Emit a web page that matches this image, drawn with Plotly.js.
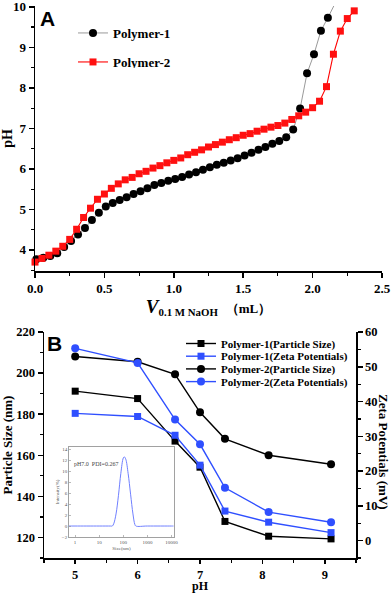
<!DOCTYPE html>
<html><head><meta charset="utf-8">
<script src="https://cdn.plot.ly/plotly-3.0.1.min.js"></script>
<style>html,body{margin:0;padding:0;background:#fff}#chart{width:392px;height:593px}</style>
</head><body><div id="chart"></div>
<script>
// ---------- Panel A: titration curves ----------
const p1Vol = [0.01,0.06,0.11,0.16,0.21,0.26,0.31,0.36,0.41,0.46,0.51,0.56,0.61,0.66,0.71,0.76,0.81,0.86,0.91,0.96,1.01,1.06,1.11,1.16,1.21,1.26,1.31,1.36,1.41,1.46,1.51,1.56,1.61,1.66,1.71,1.76,1.81,1.86,1.91,1.96,2.01,2.06,2.11,2.16];
const p1pH = [3.77,3.81,3.85,3.92,4.07,4.22,4.38,4.54,4.74,4.92,5.07,5.16,5.23,5.30,5.38,5.45,5.52,5.60,5.65,5.71,5.75,5.80,5.86,5.92,5.98,6.04,6.10,6.15,6.21,6.26,6.33,6.40,6.47,6.54,6.62,6.69,6.78,6.97,7.49,8.36,8.83,9.41,9.73,10.07];
const p2Vol = [0.00,0.05,0.10,0.15,0.20,0.25,0.30,0.35,0.40,0.45,0.50,0.55,0.60,0.65,0.70,0.75,0.80,0.85,0.90,0.95,1.00,1.05,1.10,1.15,1.20,1.25,1.30,1.35,1.40,1.45,1.50,1.55,1.60,1.65,1.70,1.75,1.80,1.85,1.90,1.95,2.00,2.05,2.10,2.15,2.20,2.25,2.30];
const p2pH = [3.70,3.79,3.87,3.97,4.09,4.26,4.51,4.80,5.03,5.25,5.38,5.52,5.63,5.73,5.79,5.88,5.94,6.02,6.08,6.15,6.21,6.27,6.35,6.41,6.47,6.54,6.60,6.66,6.72,6.77,6.83,6.87,6.93,6.98,7.03,7.07,7.13,7.22,7.31,7.40,7.51,7.67,8.03,8.83,9.40,9.71,9.90];

// ---------- Panel B: size & zeta vs pH ----------
const pHB = [5.0,6.0,6.6,7.0,7.4,8.1,9.1];
const p1Size = [191.2,187.6,166.9,154.2,127.8,120.6,119.3];
const p1Zeta = [36.6,35.7,30.3,21.7,8.5,5.3,2.3];
const p2Size = [208.1,205.5,199.4,180.9,168.0,160.0,155.6];
const p2Zeta = [55.3,51.1,34.8,27.7,15.2,8.2,5.3];

// ---------- Inset: DLS distribution ----------
const dlsSize = [0.5,1,10,30,35,40,50,63,79,100,110,126,158,200,251,300,330,1000,10000,12000];
const dlsInt  = [0,0,0,0,0,0.4,2.2,5.6,9.6,12.4,12.6,12.2,9.6,5.8,2.2,0.3,0,0,0,0];
const insetXTicks = [1,10,100,1000,10000];
const insetXText = ['1','10','100','1000','10000'];

const W=392,H=593;
const px=v=>v/W, py=v=>1-v/H;
const SERIF='"Liberation Serif","Times New Roman",serif';
const SANS='"Liberation Sans",Arial,sans-serif';
const tf={family:SERIF,size:13,color:'#000',weight:'bold'};
const tfB={family:SERIF,size:12.5,color:'#000',weight:'bold'};
const tfBx={family:SERIF,size:12,color:'#000',weight:'bold'};
const blue='#2f4fff';

const traces=[
 {x:p1Vol,y:p1pH,name:'Polymer-1',type:'scatter',mode:'lines+markers',xaxis:'x',yaxis:'y',legend:'legend',
  line:{color:'#9a9a9a',width:1},marker:{symbol:'circle',size:8,color:'#000'},cliponaxis:false},
 {x:p2Vol,y:p2pH,name:'Polymer-2',type:'scatter',mode:'lines+markers',xaxis:'x',yaxis:'y',legend:'legend',
  line:{color:'#ff0000',width:1.1},marker:{symbol:'square',size:7,color:'#ff1010'},cliponaxis:false},
 {x:pHB,y:p1Size,name:'Polymer-1(Particle Size)',type:'scatter',mode:'lines+markers',xaxis:'x2',yaxis:'y2',legend:'legend2',
  line:{color:'#000',width:1.4},marker:{symbol:'square',size:7,color:'#000'},cliponaxis:false},
 {x:pHB,y:p1Zeta,name:'Polymer-1(Zeta Potentials)',type:'scatter',mode:'lines+markers',xaxis:'x2',yaxis:'y3',legend:'legend2',
  line:{color:blue,width:1.4},marker:{symbol:'square',size:7,color:blue},cliponaxis:false},
 {x:pHB,y:p2Size,name:'Polymer-2(Particle Size)',type:'scatter',mode:'lines+markers',xaxis:'x2',yaxis:'y2',legend:'legend2',
  line:{color:'#000',width:1.4},marker:{symbol:'circle',size:8,color:'#000'},cliponaxis:false},
 {x:pHB,y:p2Zeta,name:'Polymer-2(Zeta Potentials)',type:'scatter',mode:'lines+markers',xaxis:'x2',yaxis:'y3',legend:'legend2',
  line:{color:blue,width:1.4},marker:{symbol:'circle',size:8,color:blue},cliponaxis:false},
 {x:dlsSize,y:dlsInt,name:'DLS',type:'scatter',mode:'lines',xaxis:'x3',yaxis:'y4',showlegend:false,
  line:{color:'#7080ff',width:1,shape:'spline'}}
];

const ax={showline:true,linecolor:'#000',linewidth:1.5,ticks:'outside',ticklen:5,tickwidth:1.5,tickcolor:'#000',
  showgrid:false,zeroline:false,tickfont:tf,automargin:false,fixedrange:true,ticklabeloverflow:'allow'};
const inAx={showline:true,mirror:true,linecolor:'#8a8a8a',linewidth:0.8,ticks:'inside',ticklen:2,tickwidth:0.6,tickcolor:'#8a8a8a',
  showgrid:false,zeroline:false,tickfont:{family:SERIF,size:5,color:'#555'},automargin:false,ticklabeloverflow:'allow'};

const layout={
 width:W,height:H,margin:{l:0,r:0,t:0,b:0},paper_bgcolor:'#fff',plot_bgcolor:'rgba(0,0,0,0)',
 xaxis:Object.assign({},ax,{domain:[px(35),px(382)],range:[0,2.5],anchor:'y',dtick:0.5,tick0:0,tickformat:'.1f',
   minor:{ticks:'outside',ticklen:3,dtick:0.25,tickwidth:1.2,tickcolor:'#000'},
   title:{text:'<span style="font-size:19px"><i>V</i></span><sub>0.1 M NaOH</sub>  <span style="font-size:13px">（mL）</span>',
     font:{family:SERIF,size:15.5,color:'#000',weight:'bold'},standoff:5}}),
 yaxis:Object.assign({},ax,{domain:[py(271),py(6)],range:[3.48,10.02],anchor:'x',dtick:1,tick0:0,
   minor:{ticks:'outside',ticklen:3,dtick:0.5,tickwidth:1.2,tickcolor:'#000'},
   title:{text:'pH',font:Object.assign({},tf,{size:14}),standoff:4}}),
 xaxis2:Object.assign({},ax,{domain:[px(44),px(356)],range:[4.5,9.5],anchor:'y2',dtick:1,tickfont:tfB,ticklen:4,
   minor:{ticks:'outside',ticklen:3,dtick:0.5,tickwidth:1.2,tickcolor:'#000'},
   title:{text:'pH',font:tfBx,standoff:5}}),
 yaxis2:Object.assign({},ax,{domain:[py(558),py(332)],range:[110,220],anchor:'x2',dtick:20,tick0:0,tickfont:tfB,
   minor:{ticks:'outside',ticklen:3,dtick:10,tickwidth:1.2,tickcolor:'#000'},
   title:{text:'Particle Size (nm)',font:tf,standoff:4}}),
 yaxis3:Object.assign({},ax,{domain:[py(558),py(332)],range:[-5,60],anchor:'x2',overlaying:'y2',side:'right',dtick:10,tick0:0,tickfont:tfB,
   minor:{ticks:'outside',ticklen:3,dtick:5,tickwidth:1.2,tickcolor:'#000'}}),
 xaxis3:Object.assign({},inAx,{domain:[px(69),px(174)],type:'log',range:[-0.25,4.1],anchor:'y4',
   tickvals:insetXTicks,ticktext:insetXText,
   title:{text:'Size(nm)',font:{family:SERIF,size:5,color:'#555'},standoff:2}}),
 yaxis4:Object.assign({},inAx,{domain:[py(537),py(447)],range:[-2,14.4],anchor:'x3',dtick:2,tick0:0,
   title:{text:'Intensity(%)',font:{family:SERIF,size:5,color:'#555'},standoff:2}}),
 legend:{x:px(73),y:py(18),xanchor:'left',yanchor:'top',bgcolor:'rgba(0,0,0,0)',borderwidth:0,
   font:{family:SERIF,size:13,color:'#000',weight:'bold'}},
 legend2:{x:px(181),y:py(329),xanchor:'left',yanchor:'top',bgcolor:'rgba(0,0,0,0)',borderwidth:0,
   font:{family:SERIF,size:11,color:'#000',weight:'bold'}},
 annotations:[
  {text:'A',xref:'paper',yref:'paper',x:px(47),y:py(19),xanchor:'center',yanchor:'middle',showarrow:false,
   font:{family:SANS,size:21,color:'#000',weight:'bold'}},
  {text:'B',xref:'paper',yref:'paper',x:px(55),y:py(343),xanchor:'center',yanchor:'middle',showarrow:false,
   font:{family:SANS,size:21,color:'#000',weight:'bold'}},
  {text:'Zeta Potentials (mV)',xref:'paper',yref:'paper',x:px(384),y:py(452),xanchor:'center',yanchor:'middle',
   textangle:90,showarrow:false,font:tf},
  {text:'pH7.0&nbsp;&nbsp;PDI=0.267',xref:'paper',yref:'paper',x:px(72),y:py(464),xanchor:'left',yanchor:'middle',showarrow:false,
   font:{family:SERIF,size:6,color:'#444'}}
 ],
 showlegend:true
};

Plotly.newPlot('chart',traces,layout,{staticPlot:true,displayModeBar:false}).then(function(){
  function tighten(cls,step){
    const items=document.querySelectorAll('g.'+cls+' g.traces');
    let y0=null;
    items.forEach(function(el,i){
      const m=/translate\(\s*([-\d.]+)[ ,]+([-\d.]+)\s*\)/.exec(el.getAttribute('transform')||'');
      if(!m) return;
      const x=parseFloat(m[1]),y=parseFloat(m[2]);
      if(y0===null) y0=y;
      el.setAttribute('transform','translate('+x+','+(y0+i*step)+')');
    });
  }
  tighten('legend',29);
  tighten('legend2',12.7);
});
</script></body></html>
